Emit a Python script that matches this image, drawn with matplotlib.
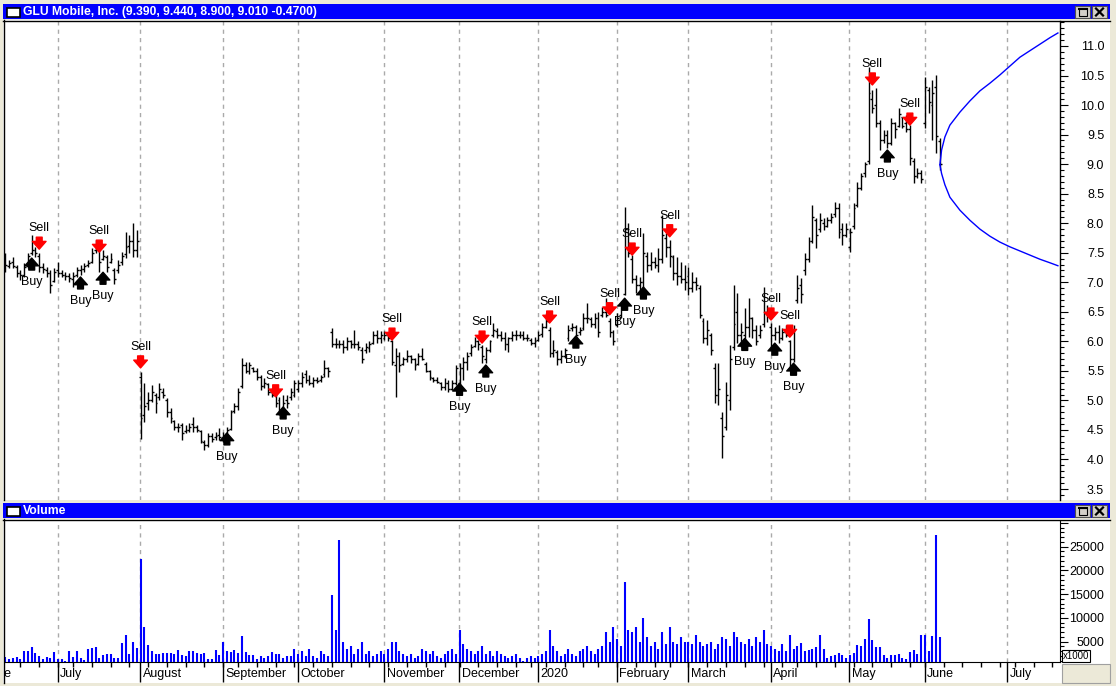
import matplotlib
matplotlib.use('Agg')
import matplotlib.pyplot as plt
import numpy as np
import pandas as pd
from matplotlib.patches import Rectangle
from matplotlib.lines import Line2D
from matplotlib.ticker import MultipleLocator
from matplotlib.transforms import Bbox, TransformedBbox, blended_transform_factory

plt.rcParams['font.family'] = ['Liberation Sans', 'DejaVu Sans']

# daily OHLC, 2019-06-11 .. 2020-06-05 (one line per month)
highs = [
    7.50, 7.38, 7.43, 7.29, 7.20, 7.32, 7.50, 7.80, 7.60, 7.50, 7.32, 7.26, 7.20, 7.24,
    7.34, 7.20, 7.17, 7.16, 7.17, 7.26, 7.29, 7.32, 7.38, 7.58, 7.72, 7.63, 7.55, 7.46, 7.50, 7.24, 7.38, 7.51, 7.85, 7.80, 8.00, 7.88,
    5.48, 5.29, 5.15, 5.26, 5.12, 5.29, 5.21, 5.04, 4.87, 4.67, 4.62, 4.62, 4.58, 4.62, 4.72, 4.58, 4.50, 4.33, 4.45, 4.45, 4.47, 4.53,
    4.47, 4.55, 4.84, 4.95, 5.21, 5.72, 5.65, 5.65, 5.57, 5.55, 5.43, 5.38, 5.29, 5.21, 5.14, 5.06, 5.09, 5.09, 5.21, 5.35,
    5.35, 5.48, 5.52, 5.43, 5.40, 5.40, 5.43, 5.68, 5.57, 6.22, 6.05, 6.02, 6.02, 6.07, 6.02, 6.19, 6.00, 5.90, 5.97, 6.00, 6.17, 6.19, 6.17,
    6.17, 6.12, 6.02, 5.89, 5.82, 5.73, 5.85, 5.77, 5.72, 5.80, 5.89, 5.65, 5.52, 5.40, 5.40, 5.31, 5.38, 5.35, 5.35, 5.60,
    5.63, 5.73, 5.82, 5.95, 6.07, 6.02, 5.94, 5.90, 6.02, 6.31, 6.22, 6.17, 6.15, 6.07, 6.17, 6.19, 6.17, 6.17, 6.12, 6.05, 6.07,
    6.17, 6.31, 6.48, 6.24, 6.02, 5.85, 5.85, 5.89, 6.27, 6.31, 6.27, 6.24, 6.48, 6.65, 6.41, 6.48, 6.50, 6.58, 6.73, 6.39, 6.19,
    6.48, 6.61, 8.27, 8.00, 7.46, 7.12, 7.09, 7.83, 7.51, 7.51, 7.43, 7.58, 8.14, 7.83, 7.72, 7.46, 7.43, 7.34, 7.29,
    7.26, 7.17, 7.09, 6.95, 6.39, 6.36, 6.14, 5.63, 5.63, 4.80, 5.31, 5.94, 6.95, 6.82, 6.31, 6.56, 6.73, 6.41, 6.27, 6.27, 6.92, 6.61,
    6.31, 6.24, 6.27, 6.22, 6.27, 6.02, 6.27, 7.12, 7.07, 7.50, 7.77, 8.31, 8.09, 8.17, 8.09, 8.10, 8.17, 8.36, 8.34, 8.00, 8.00,
    7.92, 8.34, 8.70, 8.85, 9.04, 10.65, 10.25, 10.29, 9.75, 9.58, 9.58, 9.78, 9.71, 9.95, 9.80, 9.83, 9.66, 9.10, 8.93, 8.90,
    10.48, 10.31, 10.43, 10.51, 9.44,
]
lows = [
    7.17, 7.24, 7.24, 7.09, 7.04, 7.09, 7.24, 7.46, 7.43, 7.17, 7.16, 7.09, 6.82, 7.00,
    7.09, 7.09, 7.04, 7.00, 6.92, 7.09, 7.12, 7.17, 7.26, 7.32, 7.50, 7.17, 7.38, 7.17, 7.32, 6.97, 7.16, 7.29, 7.41, 7.50, 7.43, 7.43,
    4.34, 4.64, 4.84, 4.98, 4.78, 5.00, 5.04, 4.72, 4.62, 4.50, 4.47, 4.33, 4.45, 4.47, 4.47, 4.47, 4.28, 4.16, 4.21, 4.30, 4.33, 4.33,
    4.30, 4.39, 4.50, 4.78, 4.84, 5.21, 5.46, 5.44, 5.48, 5.35, 5.18, 5.21, 5.09, 5.06, 4.89, 4.75, 4.75, 4.87, 5.01, 5.06,
    5.14, 5.23, 5.29, 5.26, 5.23, 5.29, 5.31, 5.40, 5.40, 5.90, 5.89, 5.89, 5.80, 5.85, 5.89, 5.89, 5.85, 5.63, 5.80, 5.82, 5.95, 5.97, 5.97,
    6.02, 6.00, 5.60, 5.05, 5.48, 5.60, 5.65, 5.63, 5.52, 5.60, 5.68, 5.48, 5.35, 5.31, 5.29, 5.18, 5.18, 5.14, 5.18, 5.26,
    5.26, 5.35, 5.52, 5.76, 5.90, 5.85, 5.63, 5.63, 5.82, 6.07, 6.05, 6.00, 5.85, 5.82, 6.00, 6.02, 6.05, 6.02, 6.00, 5.94, 5.90,
    6.00, 6.07, 6.22, 5.73, 5.73, 5.60, 5.63, 5.72, 6.00, 6.17, 6.02, 6.10, 6.19, 6.31, 6.24, 6.22, 6.07, 6.41, 6.41, 6.07, 5.94,
    6.24, 6.39, 6.78, 7.43, 6.99, 6.82, 6.84, 6.92, 7.17, 7.20, 7.24, 7.17, 7.33, 7.43, 7.26, 7.04, 6.95, 6.99, 6.87,
    6.78, 6.84, 6.87, 6.39, 5.97, 5.94, 5.77, 4.95, 4.92, 4.02, 4.50, 4.84, 5.85, 5.97, 5.90, 6.02, 6.07, 6.05, 5.94, 6.05, 6.24, 6.33,
    5.90, 6.02, 5.97, 6.02, 6.07, 5.51, 5.65, 6.65, 6.65, 7.12, 7.34, 7.66, 7.58, 7.85, 7.88, 7.94, 8.00, 8.10, 7.75, 7.63, 7.77,
    7.51, 7.90, 8.27, 8.56, 8.79, 9.00, 9.87, 9.63, 9.24, 9.36, 9.27, 9.32, 9.44, 9.63, 9.61, 9.54, 8.99, 8.68, 8.77, 8.68,
    9.61, 9.87, 9.40, 9.19, 8.90,
]
opens = [
    7.40, 7.28, 7.35, 7.25, 7.15, 7.12, 7.28, 7.50, 7.55, 7.45, 7.25, 7.20, 7.15, 7.02,
    7.20, 7.15, 7.12, 7.10, 7.05, 7.12, 7.20, 7.22, 7.30, 7.35, 7.55, 7.55, 7.40, 7.42, 7.35, 7.20, 7.20, 7.35, 7.48, 7.62, 7.70, 7.55,
    5.40, 4.75, 4.95, 5.00, 5.10, 5.05, 5.15, 5.00, 4.80, 4.65, 4.55, 4.58, 4.48, 4.50, 4.60, 4.55, 4.48, 4.30, 4.25, 4.40, 4.38, 4.42,
    4.35, 4.42, 4.52, 4.82, 4.90, 5.25, 5.60, 5.50, 5.55, 5.50, 5.40, 5.25, 5.28, 5.15, 5.10, 5.00, 4.80, 5.00, 5.05, 5.10,
    5.20, 5.30, 5.45, 5.35, 5.30, 5.35, 5.35, 5.45, 5.55, 6.15, 5.95, 5.95, 5.95, 5.90, 6.00, 5.95, 5.95, 5.85, 5.85, 5.88, 5.98, 6.10, 6.05,
    6.05, 6.10, 6.00, 5.60, 5.75, 5.62, 5.70, 5.75, 5.70, 5.62, 5.75, 5.62, 5.50, 5.38, 5.35, 5.30, 5.22, 5.30, 5.20, 5.30,
    5.30, 5.55, 5.65, 5.80, 5.92, 6.00, 5.90, 5.70, 5.85, 6.10, 6.18, 6.10, 6.05, 5.95, 6.05, 6.10, 6.10, 6.10, 6.05, 6.03, 5.98,
    6.02, 6.12, 6.25, 6.20, 5.80, 5.82, 5.70, 5.76, 6.05, 6.22, 6.25, 6.15, 6.22, 6.40, 6.38, 6.30, 6.40, 6.45, 6.50, 6.35, 6.15,
    6.28, 6.45, 6.80, 7.90, 7.40, 7.05, 6.95, 7.00, 7.45, 7.30, 7.35, 7.30, 7.40, 7.75, 7.60, 7.42, 7.15, 7.10, 7.05,
    7.10, 6.90, 7.00, 6.90, 6.35, 6.05, 6.10, 5.55, 5.10, 4.70, 4.55, 5.00, 5.90, 6.50, 6.10, 6.10, 6.25, 6.40, 6.20, 6.10, 6.30, 6.50,
    6.25, 6.10, 6.15, 6.05, 6.15, 6.00, 5.70, 6.70, 6.95, 7.20, 7.40, 7.70, 8.05, 7.90, 8.00, 7.95, 8.05, 8.15, 8.25, 7.90, 7.80,
    7.60, 7.95, 8.30, 8.60, 8.85, 9.05, 10.10, 10.00, 9.70, 9.40, 9.50, 9.35, 9.70, 9.65, 9.80, 9.70, 9.60, 9.05, 8.80, 8.85,
    9.70, 10.25, 10.00, 10.30, 9.39,
]
closes = [
    7.30, 7.32, 7.28, 7.15, 7.12, 7.25, 7.45, 7.55, 7.50, 7.25, 7.22, 7.15, 6.95, 7.18,
    7.15, 7.12, 7.10, 7.08, 7.10, 7.20, 7.22, 7.28, 7.32, 7.50, 7.55, 7.35, 7.45, 7.25, 7.40, 7.05, 7.30, 7.45, 7.60, 7.70, 7.55, 7.70,
    4.70, 4.90, 5.00, 5.15, 4.95, 5.20, 5.10, 4.80, 4.70, 4.55, 4.55, 4.45, 4.50, 4.55, 4.55, 4.50, 4.32, 4.25, 4.40, 4.35, 4.40, 4.38,
    4.40, 4.50, 4.80, 4.90, 5.15, 5.60, 5.50, 5.60, 5.50, 5.40, 5.25, 5.30, 5.15, 5.10, 4.95, 4.80, 4.95, 4.95, 5.15, 5.30,
    5.30, 5.40, 5.35, 5.30, 5.35, 5.33, 5.40, 5.55, 5.50, 5.95, 5.95, 5.95, 5.90, 6.00, 5.95, 5.95, 5.90, 5.70, 5.90, 5.95, 6.10, 6.05, 6.10,
    6.10, 6.05, 5.65, 5.75, 5.60, 5.70, 5.75, 5.70, 5.60, 5.75, 5.70, 5.50, 5.40, 5.35, 5.32, 5.22, 5.30, 5.20, 5.30, 5.55,
    5.55, 5.65, 5.75, 5.90, 6.00, 5.95, 5.75, 5.85, 6.00, 6.20, 6.10, 6.05, 5.95, 6.05, 6.10, 6.10, 6.10, 6.05, 6.05, 5.98, 6.00,
    6.10, 6.25, 6.35, 5.80, 5.85, 5.70, 5.75, 5.85, 6.20, 6.25, 6.10, 6.20, 6.40, 6.40, 6.30, 6.40, 6.15, 6.50, 6.45, 6.15, 6.00,
    6.40, 6.55, 7.90, 7.50, 7.05, 6.95, 7.00, 7.50, 7.30, 7.35, 7.30, 7.40, 7.80, 7.60, 7.45, 7.15, 7.10, 7.05, 7.00,
    6.90, 7.00, 6.95, 6.45, 6.05, 6.20, 5.85, 5.10, 5.20, 4.40, 5.10, 5.70, 6.30, 6.10, 6.15, 6.25, 6.40, 6.20, 6.00, 6.20, 6.50, 6.45,
    6.10, 6.15, 6.05, 6.15, 6.10, 5.70, 6.20, 6.90, 6.80, 7.40, 7.70, 8.10, 7.80, 8.05, 7.95, 8.05, 8.10, 8.25, 7.85, 7.80, 7.90,
    7.85, 8.25, 8.60, 8.80, 9.00, 10.20, 9.95, 9.70, 9.40, 9.50, 9.35, 9.70, 9.60, 9.85, 9.65, 9.60, 9.10, 8.80, 8.85, 8.75,
    10.30, 10.05, 10.20, 9.48, 9.01,
]
# volume in thousands of shares
volumes = [
    1800, 1300, 1500, 1800, 1300, 3000, 3000, 3900, 2700, 2000, 1300, 1800, 1600, 2900,
    1300, 1300, 900, 3000, 1800, 3000, 1600, 1100, 3500, 3700, 3900, 1600, 2100, 2500, 2500, 1600, 1600, 4800, 6400, 2500, 5000, 3700,
    22400, 8100, 4300, 3000, 2400, 2400, 2700, 2700, 2700, 2400, 3200, 2100, 2000, 3000, 3000, 2700, 2400, 2700, 1300, 1300, 3200, 2100,
    5000, 3000, 2900, 3200, 2700, 6200, 2900, 2100, 2100, 1300, 1900, 1500, 1900, 2900, 2400, 2400, 1600, 1900, 1900, 3500,
    2500, 3000, 2000, 3500, 2000, 1500, 3000, 2500, 2000, 14800, 7500, 26500, 5000, 3500, 4000, 2500, 3500, 5000, 2500, 3000, 2000, 2500, 3000,
    2500, 3500, 5000, 5000, 3000, 2500, 2000, 2500, 1500, 2000, 3500, 3000, 2500, 3000, 2000, 1500, 2500, 3000, 3500, 2500,
    7500, 4500, 3500, 3000, 2500, 3000, 4000, 2500, 3000, 2000, 3000, 2500, 2000, 1500, 2000, 2500, 1500, 1000, 1500, 2000, 1500,
    2000, 2500, 3000, 7500, 4000, 3000, 2000, 2500, 3500, 2500, 2000, 3000, 3500, 4000, 3000, 2500, 3500, 4000, 7000, 5000, 8000,
    5500, 4000, 17500, 7500, 7000, 8000, 5000, 10000, 6000, 4000, 5000, 3500, 7000, 4500, 8000, 5000, 4500, 6000, 5000,
    5000, 4500, 6500, 5000, 4000, 4500, 5000, 3500, 4500, 6000, 5500, 4000, 7000, 6000, 5000, 4500, 5500, 4000, 6000, 5000, 7500, 4500,
    4000, 3500, 3000, 4500, 3000, 6500, 3500, 4000, 4700, 3000, 3200, 3500, 3900, 6400, 3500, 1600, 2000, 2100, 2700, 2100, 1600,
    2100, 2700, 4300, 4100, 5600, 9800, 5300, 3900, 3900, 2100, 1500, 2100, 2100, 2400, 1500, 1300, 2800, 3200, 2400, 6400,
    6400, 3000, 6200, 27500, 6000,
]

# signals: bar index and arrow tip price
buy_idx = [7, 20, 26, 59, 74, 121, 128, 152, 165, 170, 197, 205, 210, 235]
buy_tip = [7.41, 7.09, 7.17, 4.45, 4.89, 5.29, 5.60, 6.09, 6.73, 6.92, 6.05, 5.97, 5.63, 9.24]
sell_idx = [9, 25, 36, 72, 103, 127, 145, 161, 167, 177, 204, 209, 231, 241]
sell_tip = [7.56, 7.51, 5.55, 5.06, 6.02, 5.97, 6.31, 6.45, 7.46, 7.77, 6.36, 6.07, 10.34, 9.66]

# projection curve after the last bar (days ahead, price)
cone_days = [0, 0.45, 1.33, 2.66, 5.33, 7.99, 10.66, 13.32, 15.99, 18.65, 21.32, 23.98, 26.65, 29.31, 31.44]
cone_up = [8.99, 9.24, 9.46, 9.66, 9.88, 10.07, 10.24, 10.37, 10.51, 10.66, 10.81, 10.92, 11.03, 11.14, 11.22]
cone_dn = [8.99, 8.84, 8.65, 8.44, 8.22, 8.05, 7.90, 7.78, 7.68, 7.60, 7.53, 7.46, 7.39, 7.33, 7.28]

month_names = ['June', 'July', 'August', 'September', 'October', 'November', 'December',
               '2020', 'February', 'March', 'April', 'May', 'June', 'July']
holidays = ['2019-07-04', '2019-09-02', '2019-11-28', '2019-12-25', '2020-01-01',
            '2020-01-20', '2020-02-17', '2020-04-10', '2020-05-25', '2020-07-03']

days = pd.bdate_range('2019-06-03', '2020-07-31', freq='C', holidays=holidays)
first = list(days).index(pd.Timestamp('2019-06-11'))
pos = np.arange(len(days)) - first
mstart = np.r_[True, days.month[1:] != days.month[:-1]]
wstart = np.r_[True, np.diff(days.dayofweek) < 0]
month_x = pos[mstart] - 0.1
week_x = pos[wstart]

W, H = 1116, 686
fig = plt.figure(figsize=(W / 100, H / 100), dpi=100, facecolor='#ECE9D8')


def fx(v):
    return v / W


def fy(v):
    return 1 - v / H


def rect(x0, y0, x1, y1, z=1, **kw):
    fig.add_artist(Rectangle((fx(x0), fy(y1)), fx(x1) - fx(x0), fy(y0) - fy(y1),
                             transform=fig.transFigure, zorder=z, **kw))


def line(xs, ys, z=2, **kw):
    fig.add_artist(Line2D([fx(v) for v in xs], [fy(v) for v in ys],
                          transform=fig.transFigure, zorder=z, **kw))


def title_bar(y0, text):
    rect(3, y0, 1110, y0 + 15, z=3, facecolor='#0000FF', edgecolor='none')
    rect(7, y0 + 4, 20, y0 + 13, z=4, facecolor='white', edgecolor='black', lw=1.2)
    fig.text(fx(23), fy(y0 + 8), text, color='white', fontsize=8.7, fontweight='bold',
             va='center', ha='left', zorder=5)
    # window buttons
    bx = 1075
    rect(bx, y0 + 2, bx + 15, y0 + 14, z=4, facecolor='#D4D0C8', edgecolor='#505050', lw=0.8)
    rect(bx + 3.5, y0 + 4.5, bx + 11.5, y0 + 11.5, z=5, facecolor='none', edgecolor='black', lw=0.8)
    line([bx + 3.5, bx + 11.5], [y0 + 5, y0 + 5], z=5, color='black', lw=1.5)
    cx = 1092
    rect(cx, y0 + 2, cx + 15, y0 + 14, z=4, facecolor='#D4D0C8', edgecolor='#505050', lw=0.8)
    line([cx + 4, cx + 11], [y0 + 4.5, y0 + 11.5], z=5, color='black', lw=1.6)
    line([cx + 4, cx + 11], [y0 + 11.5, y0 + 4.5], z=5, color='black', lw=1.6)


# panel backgrounds and frames
rect(3, 20, 1110, 500, z=-5, facecolor='white', edgecolor='none')
rect(3, 519, 1110, 683, z=-5, facecolor='white', edgecolor='none')
line([3, 1110], [20.5, 20.5], color='black', lw=1)
line([3.5, 3.5], [20, 500], color='black', lw=1)
line([3, 1110], [519.5, 519.5], color='black', lw=1)
line([3.5, 3.5], [519, 683], color='black', lw=1)
title_bar(4, 'GLU Mobile, Inc. (9.390, 9.440, 8.900, 9.010 -0.4700)')
title_bar(503, 'Volume')

n = len(closes)
x = np.arange(n)
xlim = (-0.12, 281.0)

# price panel
ax = fig.add_axes([fx(5), fy(500), fx(1060) - fx(5), fy(21) - fy(500)])
ax.set_facecolor('white')
for m in month_x:
    ax.axvline(m, color='#AAAAAA', lw=1, ls=(0, (3, 3)), zorder=1)
ax.vlines(x, lows, highs, color='black', lw=1, zorder=3)
ax.hlines(opens, x - 0.5, x, color='black', lw=1, zorder=3)
ax.hlines(closes, x, x + 0.5, color='black', lw=1, zorder=3)

cone_x = n - 1 + np.array(cone_days)
ax.plot(cone_x, cone_up, color='#0000FF', lw=1, zorder=3)
ax.plot(cone_x, cone_dn, color='#0000FF', lw=1, zorder=3)

arrow = 'simple,head_length=0.8,head_width=1.4,tail_width=0.6'
for i, p in zip(buy_idx, buy_tip):
    ax.annotate('', xy=(i, p), xytext=(0, -12), textcoords='offset pixels',
                arrowprops=dict(arrowstyle=arrow, color='black', mutation_scale=7,
                                shrinkA=0, shrinkB=0), zorder=4)
    ax.annotate('Buy', xy=(i, p), xytext=(0, -24), textcoords='offset pixels',
                ha='center', va='center', fontsize=9, zorder=4)
for i, p in zip(sell_idx, sell_tip):
    ax.annotate('', xy=(i, p), xytext=(0, 12), textcoords='offset pixels',
                arrowprops=dict(arrowstyle=arrow, color='#FF0000', mutation_scale=7,
                                shrinkA=0, shrinkB=0), zorder=4)
    ax.annotate('Sell', xy=(i, p), xytext=(0, 21), textcoords='offset pixels',
                ha='center', va='center', fontsize=9, zorder=4)

for s in ['left', 'top', 'bottom']:
    ax.spines[s].set_visible(False)
ax.spines['right'].set_linewidth(1)
ax.set_xticks([])
ax.yaxis.tick_right()
ax.set_yticks(np.arange(3.5, 11.01, 0.5))
ax.set_yticklabels([f'{v:.1f}' for v in np.arange(3.5, 11.01, 0.5)])
ax.yaxis.set_minor_locator(MultipleLocator(0.1))
ax.tick_params(axis='y', which='major', length=5.8, width=0.8, pad=26, labelsize=9)
ax.tick_params(axis='y', which='minor', length=2.9, width=0.8)
plt.setp(ax.get_yticklabels(), ha='right')
ax.set_xlim(*xlim)
ax.set_ylim(3.314, 11.423)

# volume panel
ax2 = fig.add_axes([fx(5), fy(662), fx(1060) - fx(5), fy(521) - fy(662)])
ax2.set_facecolor('white')
for m in month_x:
    ax2.axvline(m, color='#AAAAAA', lw=1, ls=(0, (3, 3)), zorder=1)
ax2.vlines(x, 0, volumes, color='#0000FF', lw=1.5, zorder=3)
ax2.spines['left'].set_visible(False)
ax2.spines['top'].set_visible(False)
ax2.yaxis.tick_right()
vt = [5000, 10000, 15000, 20000, 25000, 30000]
ax2.set_yticks(vt)
ax2.set_yticklabels([str(v) if v < 30000 else '' for v in vt])
ax2.yaxis.set_minor_locator(MultipleLocator(1000))
ax2.tick_params(axis='y', which='major', length=5.8, width=0.8, pad=26, labelsize=9)
ax2.tick_params(axis='y', which='minor', length=2.9, width=0.8)
plt.setp(ax2.get_yticklabels(), ha='right')
ax2.set_xticks(month_x)
ax2.set_xticklabels([])
ax2.set_xticks(week_x, minor=True)
ax2.tick_params(axis='x', which='major', length=14.4, width=1, direction='out')
ax2.tick_params(axis='x', which='minor', length=3.6, width=1, direction='out')
ax2.set_xlim(*xlim)
ax2.set_ylim(720, 30400)

# month names under the axis; the first one is cut by the left edge as in the window
trans = blended_transform_factory(ax2.transData, ax2.transAxes)
clip = TransformedBbox(Bbox.from_extents(fx(5), 0, fx(1060), 1), fig.transFigure)
for m, name in zip(month_x, month_names):
    t = ax2.text(m + 0.7, -0.084, name, transform=trans, ha='left', va='center',
                 fontsize=9, clip_on=True)
    t.set_clip_box(clip)

# x1000 box and corner box
rect(1062, 650, 1090, 662, z=4, facecolor='white', edgecolor='black', lw=0.8)
fig.text(fx(1076), fy(656), 'x1000', fontsize=7, ha='center', va='center', zorder=5)
rect(1062, 664, 1110, 683, z=4, facecolor='#ECE9D8', edgecolor='#A0A0A0', lw=0.8)

fig.savefig('out.png', dpi=100, facecolor=fig.get_facecolor())
